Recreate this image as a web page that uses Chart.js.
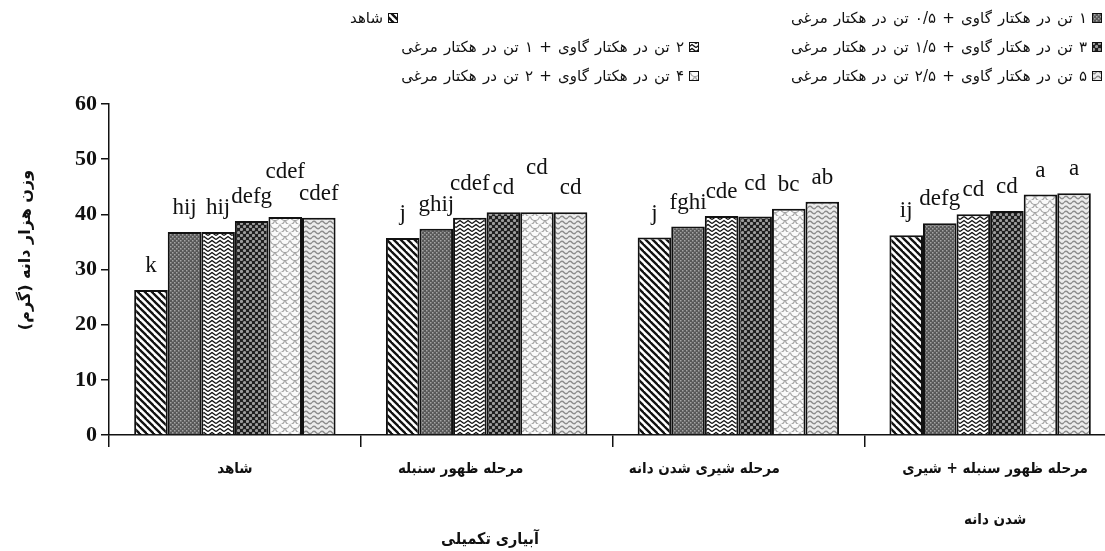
<!DOCTYPE html>
<html>
<head>
<meta charset="utf-8">
<script src="https://cdn.jsdelivr.net/npm/chart.js@4.4.0/dist/chart.umd.min.js"></script>
<style>
  body { margin: 0; overflow: hidden; background: #fff; }
  #wrap { width: 1116px; height: 551px; }
</style>
</head>
<body>
<div id="wrap"><canvas id="chart" width="1116" height="551"></canvas></div>
<script>
// گروه‌ها (آبیاری تکمیلی)
const categories = [
  ['شاهد'],
  ['مرحله ظهور سنبله'],
  ['مرحله شیری شدن دانه'],
  ['مرحله ظهور سنبله + شیری', 'شدن دانه']
];

const seriesNames = [
  'شاهد',
  '۱ تن در هکتار گاوی + ۰/۵ تن در هکتار مرغی',
  '۲ تن در هکتار گاوی + ۱ تن در هکتار مرغی',
  '۳ تن در هکتار گاوی + ۱/۵ تن در هکتار مرغی',
  '۴ تن در هکتار گاوی + ۲ تن در هکتار مرغی',
  '۵ تن در هکتار گاوی + ۲/۵ تن در هکتار مرغی'
];

// وزن هزار دانه (گرم)
const control = [26.3, 35.7, 35.8, 36.2];
const manure1 = [36.8, 37.4, 37.8, 38.4];
const manure2 = [36.8, 39.4, 39.7, 40.0];
const manure3 = [38.8, 40.4, 39.6, 40.6];
const manure4 = [39.5, 40.4, 41.0, 43.6];
const manure5 = [39.4, 40.4, 42.3, 43.8];

// حروف مقایسه میانگین
const letters0 = ['k', 'j', 'j', 'ij'];
const letters1 = ['hij', 'ghij', 'fghi', 'defg'];
const letters2 = ['hij', 'cdef', 'cde', 'cd'];
const letters3 = ['defg', 'cd', 'cd', 'cd'];
const letters4 = ['cdef', 'cd', 'bc', 'a'];
const letters5 = ['cdef', 'cd', 'ab', 'a'];

const yTicks = [0, 10, 20, 30, 40, 50, 60];

const allValues = [control, manure1, manure2, manure3, manure4, manure5];
const allLetters = [letters0, letters1, letters2, letters3, letters4, letters5];

// extra raise for a few letters that sit higher in the original (px)
const letterRaise = [
  [0, 0, 0, 0],
  [0, 0, 0, 0],
  [0, 10, 0, 0],
  [0, 0, 9, 0],
  [21, 20, 0, 0],
  [0, 0, 0, 0]
];
// category labels sit a little off the group centre in the original (px)
const labelShift = [0, -26, -34, 5];
// legend: right edge of each swatch, row centre
const legendRight = [398, 1102, 699, 1102, 699, 1102];
const legendRowY = [18, 47, 76];

// hatch patterns
function tile(w, h, draw) {
  const c = document.createElement('canvas');
  c.width = w; c.height = h;
  draw(c.getContext('2d'), w, h);
  return c;
}
function makePattern(kind) {
  let c;
  if (kind === 0) {
    c = tile(7, 7, (x, w, h) => {
      x.fillStyle = '#fff'; x.fillRect(0, 0, w, h);
      x.strokeStyle = '#111'; x.lineWidth = 2.3;
      for (let k = -1; k <= 1; k++) {
        x.beginPath(); x.moveTo(k * 7 - 1, -1); x.lineTo(k * 7 + 8, 8); x.stroke();
      }
    });
  } else if (kind === 1) {
    c = tile(4, 4, (x, w, h) => {
      x.fillStyle = '#585858'; x.fillRect(0, 0, w, h);
      x.fillStyle = '#a4a4a4';
      x.fillRect(0, 0, 1.5, 1.5); x.fillRect(2, 2, 1.5, 1.5);
    });
  } else if (kind === 2) {
    c = tile(8, 8, (x, w, h) => {
      x.fillStyle = '#fff'; x.fillRect(0, 0, w, h);
      x.strokeStyle = '#111'; x.lineWidth = 1.4;
      for (let y0 = -4; y0 <= 8; y0 += 4) {
        x.beginPath(); x.moveTo(0, y0 + 3.5); x.lineTo(4, y0 + 0.5); x.lineTo(8, y0 + 3.5); x.stroke();
      }
    });
  } else if (kind === 3) {
    c = tile(6, 6, (x, w, h) => {
      x.fillStyle = '#1e1e1e'; x.fillRect(0, 0, w, h);
      x.fillStyle = '#9c9c9c';
      [[1.5, 1.5], [4.5, 4.5]].forEach(p => { x.beginPath(); x.arc(p[0], p[1], 1.6, 0, Math.PI * 2); x.fill(); });
    });
  } else if (kind === 4) {
    c = tile(10, 8, (x, w, h) => {
      x.fillStyle = '#fafafa'; x.fillRect(0, 0, w, h);
      x.strokeStyle = '#a0a0a0'; x.lineWidth = 1.2;
      [[5, 0], [0, 4], [10, 4], [5, 8]].forEach(p => { x.beginPath(); x.arc(p[0], p[1], 4.5, 0.1, Math.PI - 0.1); x.stroke(); });
    });
  } else {
    c = tile(8, 5, (x, w, h) => {
      x.fillStyle = '#ececec'; x.fillRect(0, 0, w, h);
      x.strokeStyle = '#8c8c8c'; x.lineWidth = 1.3;
      x.beginPath(); x.moveTo(0, 2.5);
      x.quadraticCurveTo(2, 0, 4, 2.5); x.quadraticCurveTo(6, 5, 8, 2.5); x.stroke();
    });
  }
  return document.getElementById('chart').getContext('2d').createPattern(c, 'repeat');
}
const patterns = [0, 1, 2, 3, 4, 5].map(makePattern);

const persian = '"DejaVu Sans"';
const persianNarrow = '"DejaVu Sans Condensed", "DejaVu Sans"';
const serif = '"Liberation Serif", "Times New Roman", serif';

const textPlugin = {
  id: 'texts',
  afterDatasetsDraw(chart) {
    const ctx = chart.ctx;
    // letters above bars
    ctx.save();
    ctx.fillStyle = '#111';
    ctx.font = '23px ' + serif;
    ctx.textAlign = 'center';
    ctx.textBaseline = 'middle';
    allLetters.forEach((lets, di) => {
      const meta = chart.getDatasetMeta(di);
      meta.data.forEach((bar, i) => {
        ctx.fillText(lets[i], bar.x, bar.y - 24 - letterRaise[di][i]);
      });
    });
    ctx.restore();
  },
  afterDraw(chart) {
    const ctx = chart.ctx;
    const xs = chart.scales.x;
    ctx.save();
    ctx.fillStyle = '#111';
    ctx.direction = 'rtl';
    ctx.textBaseline = 'middle';
    ctx.textAlign = 'center';

    // category labels
    ctx.font = 'bold 15px ' + persianNarrow;
    categories.forEach((lines, i) => {
      const cx = xs.getPixelForValue(i) + labelShift[i];
      lines.forEach((t, j) => ctx.fillText(t, cx, 469 + j * 51));
    });

    // x title
    ctx.font = 'bold 16px ' + persianNarrow;
    ctx.fillText('آبیاری تکمیلی', 490, 540);

    // y title
    ctx.save();
    ctx.translate(26, 250);
    ctx.rotate(-Math.PI / 2);
    ctx.font = 'bold 16px ' + persian;
    ctx.fillText('وزن هزار دانه (گرم)', 0, 0);
    ctx.restore();

    // legend: text then swatch
    ctx.font = '15px ' + persian;
    ctx.wordSpacing = '1.5px';
    ctx.textAlign = 'right';
    seriesNames.forEach((name, k) => {
      const row = Math.floor(k / 2);
      const sx = legendRight[k] - 10, sy = legendRowY[row] - 5;
      ctx.fillStyle = patterns[k];
      ctx.fillRect(sx, sy, 10, 10);
      ctx.strokeStyle = '#111';
      ctx.lineWidth = 1;
      ctx.strokeRect(sx + 0.5, sy + 0.5, 9, 9);
      ctx.fillStyle = '#111';
      ctx.fillText(name, sx - 5, legendRowY[row] + 1);
    });
    ctx.restore();
  }
};

new Chart(document.getElementById('chart'), {
  type: 'bar',
  data: {
    labels: categories.map(c => c.join(' ')),
    datasets: allValues.map((vals, k) => ({
      label: seriesNames[k],
      data: vals,
      backgroundColor: patterns[k],
      borderColor: '#111',
      borderWidth: 2,
      categoryPercentage: 0.8,
      barPercentage: 1.0
    }))
  },
  options: {
    responsive: false,
    animation: false,
    layout: { padding: { top: 104, bottom: 104, left: 0, right: 0 } },
    plugins: { legend: { display: false }, tooltip: { enabled: false } },
    scales: {
      x: {
        ticks: { display: false },
        grid: { drawOnChartArea: false, drawTicks: true, tickLength: 12, color: '#111', lineWidth: 1.5 },
        border: { color: '#111', width: 1.5 }
      },
      y: {
        min: 0,
        max: 60,
        afterBuildTicks: s => { s.ticks = yTicks.map(v => ({ value: v })); },
        afterFit: s => { s.width = 109; },
        ticks: { color: '#111', padding: 4, font: { family: serif, size: 22, weight: 'bold' } },
        grid: { drawOnChartArea: false, drawTicks: true, tickLength: 8, color: '#111', lineWidth: 1.5 },
        border: { color: '#111', width: 1.5 }
      }
    }
  },
  plugins: [textPlugin]
});
</script>
</body>
</html>
